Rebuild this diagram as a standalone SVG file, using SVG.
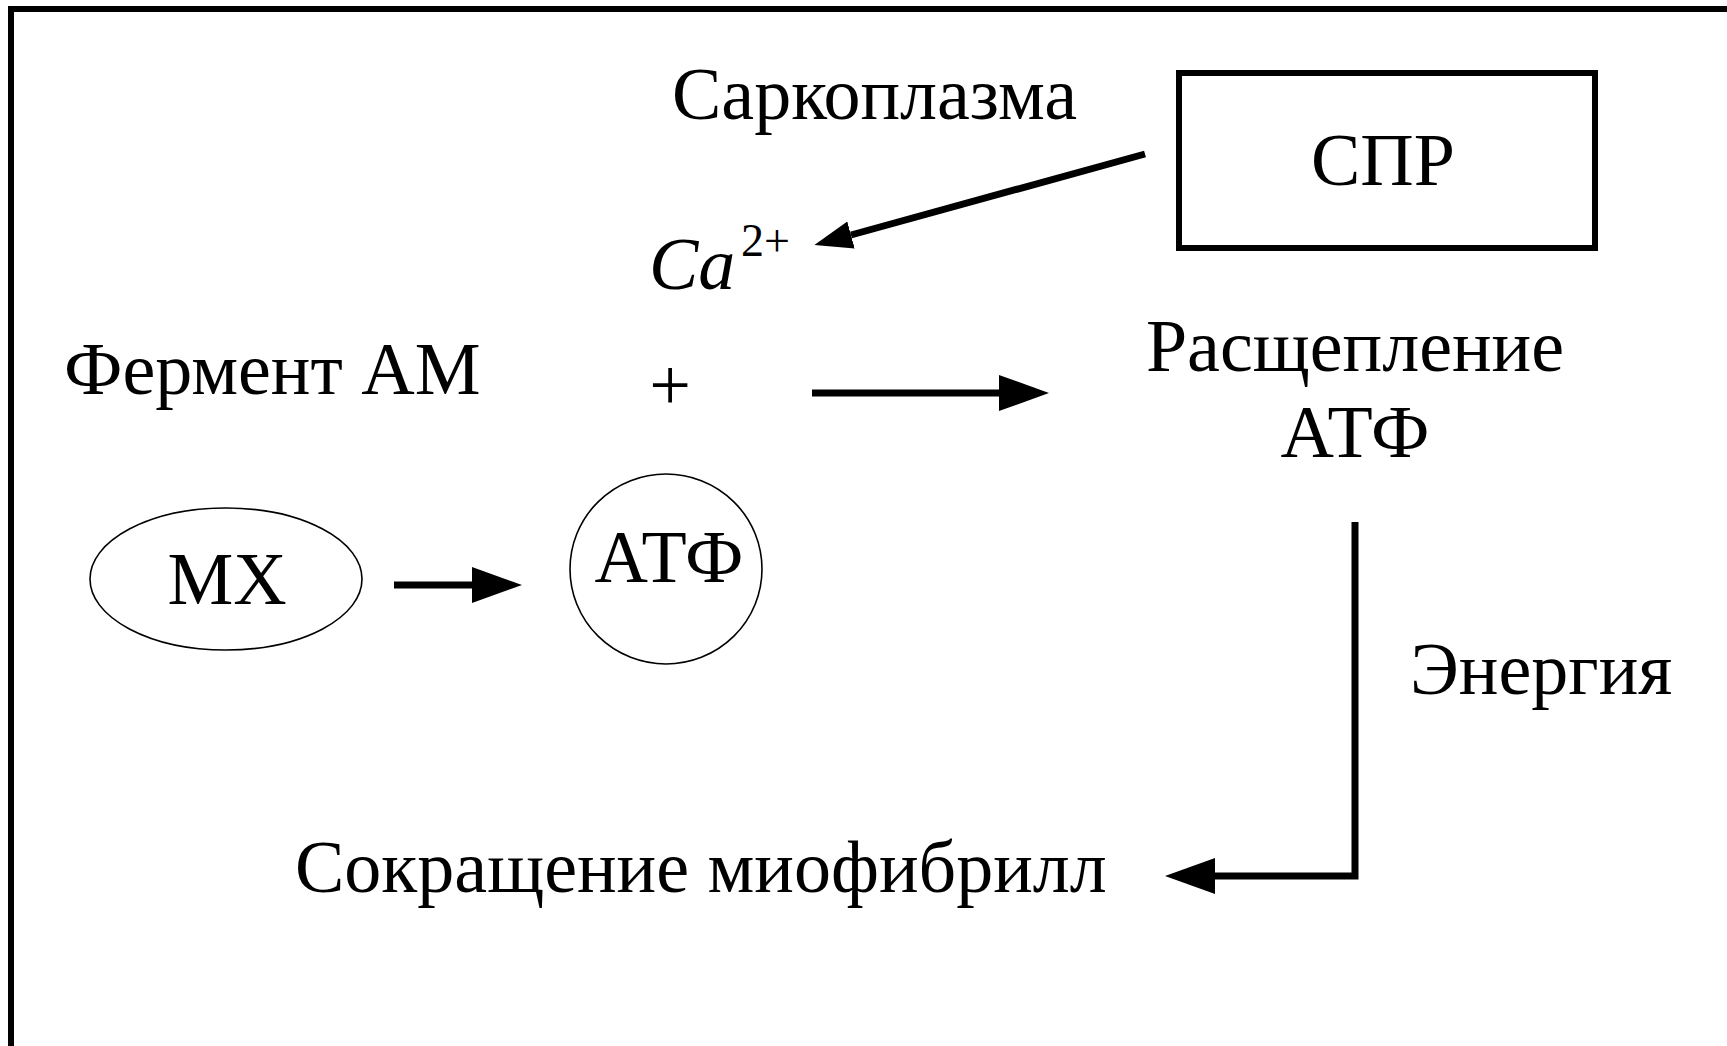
<svg xmlns="http://www.w3.org/2000/svg" width="1727" height="1046" viewBox="0 0 1727 1046">
  <style>
    .t { font-family: "Liberation Serif", "Times New Roman", serif; font-size: 74px; fill: #000; }
    .it { font-style: italic; }
    .sup { font-size: 46px; }
    .shape { fill: none; stroke: #000; }
    .conn { fill: none; stroke: #000; stroke-width: 7; stroke-linejoin: miter; }
  </style>
  <defs>
    <marker id="head" viewBox="0 0 50 36" refX="0" refY="18" markerWidth="50" markerHeight="36" markerUnits="userSpaceOnUse" orient="auto">
      <path d="M0,0 L50,18 L0,36 Z" fill="#000"/>
    </marker>
    <marker id="headSmall" viewBox="0 0 38 28" refX="0" refY="14" markerWidth="38" markerHeight="28" markerUnits="userSpaceOnUse" orient="auto">
      <path d="M0,0 L38,14 L0,28 Z" fill="#000"/>
    </marker>
  </defs>

  <rect width="1727" height="1046" fill="#fff"/>
  <!-- outer frame, open past the right and bottom edges -->
  <rect x="11" y="9" width="1760" height="1100" fill="none" stroke="#000" stroke-width="6"/>

  <g id="label-sarcoplasm">
    <text class="t" x="672" y="119">Саркоплазма</text>
  </g>

  <g id="node-spr">
    <rect class="shape" x="1179" y="73" width="416" height="175" stroke-width="6"/>
    <text class="t" x="1383" y="185" text-anchor="middle">СПР</text>
  </g>

  <g id="node-ca">
    <text class="t it" x="649" y="289">Ca</text>
    <text class="t sup" x="741" y="256">2+</text>
  </g>

  <g id="node-enzyme">
    <text class="t" x="64" y="394">Фермент АМ</text>
  </g>

  <g id="label-plus">
    <text class="t" x="670" y="410" text-anchor="middle">+</text>
  </g>

  <g id="node-split">
    <text class="t" x="1355" y="371" text-anchor="middle">Расщепление</text>
    <text class="t" x="1355" y="457" text-anchor="middle">АТФ</text>
  </g>

  <g id="node-mx">
    <ellipse class="shape" cx="226" cy="579" rx="136" ry="71" stroke-width="1.6"/>
    <text class="t" x="227" y="604" text-anchor="middle">МХ</text>
  </g>

  <g id="node-atp">
    <ellipse class="shape" cx="666" cy="569" rx="96" ry="95" stroke-width="1.6"/>
    <text class="t" x="669" y="582" text-anchor="middle">АТФ</text>
  </g>

  <g id="label-energy">
    <text class="t" x="1410" y="694">Энергия</text>
  </g>

  <g id="node-contraction">
    <text class="t" x="295" y="892">Сокращение миофибрилл</text>
  </g>

  <g id="connectors">
    <!-- СПР releases Ca2+ -->
    <line class="conn" x1="1145" y1="154" x2="851" y2="235" stroke-width="5.5" marker-end="url(#headSmall)"/>
    <!-- enzyme + Ca2+ to ATP splitting -->
    <line class="conn" x1="812" y1="393" x2="999" y2="393" marker-end="url(#head)"/>
    <!-- mitochondria to ATP -->
    <line class="conn" x1="394" y1="585" x2="472" y2="585" marker-end="url(#head)"/>
    <!-- energy to myofibril contraction -->
    <path class="conn" d="M1355,522 V876 H1215" marker-end="url(#head)"/>
  </g>
</svg>
